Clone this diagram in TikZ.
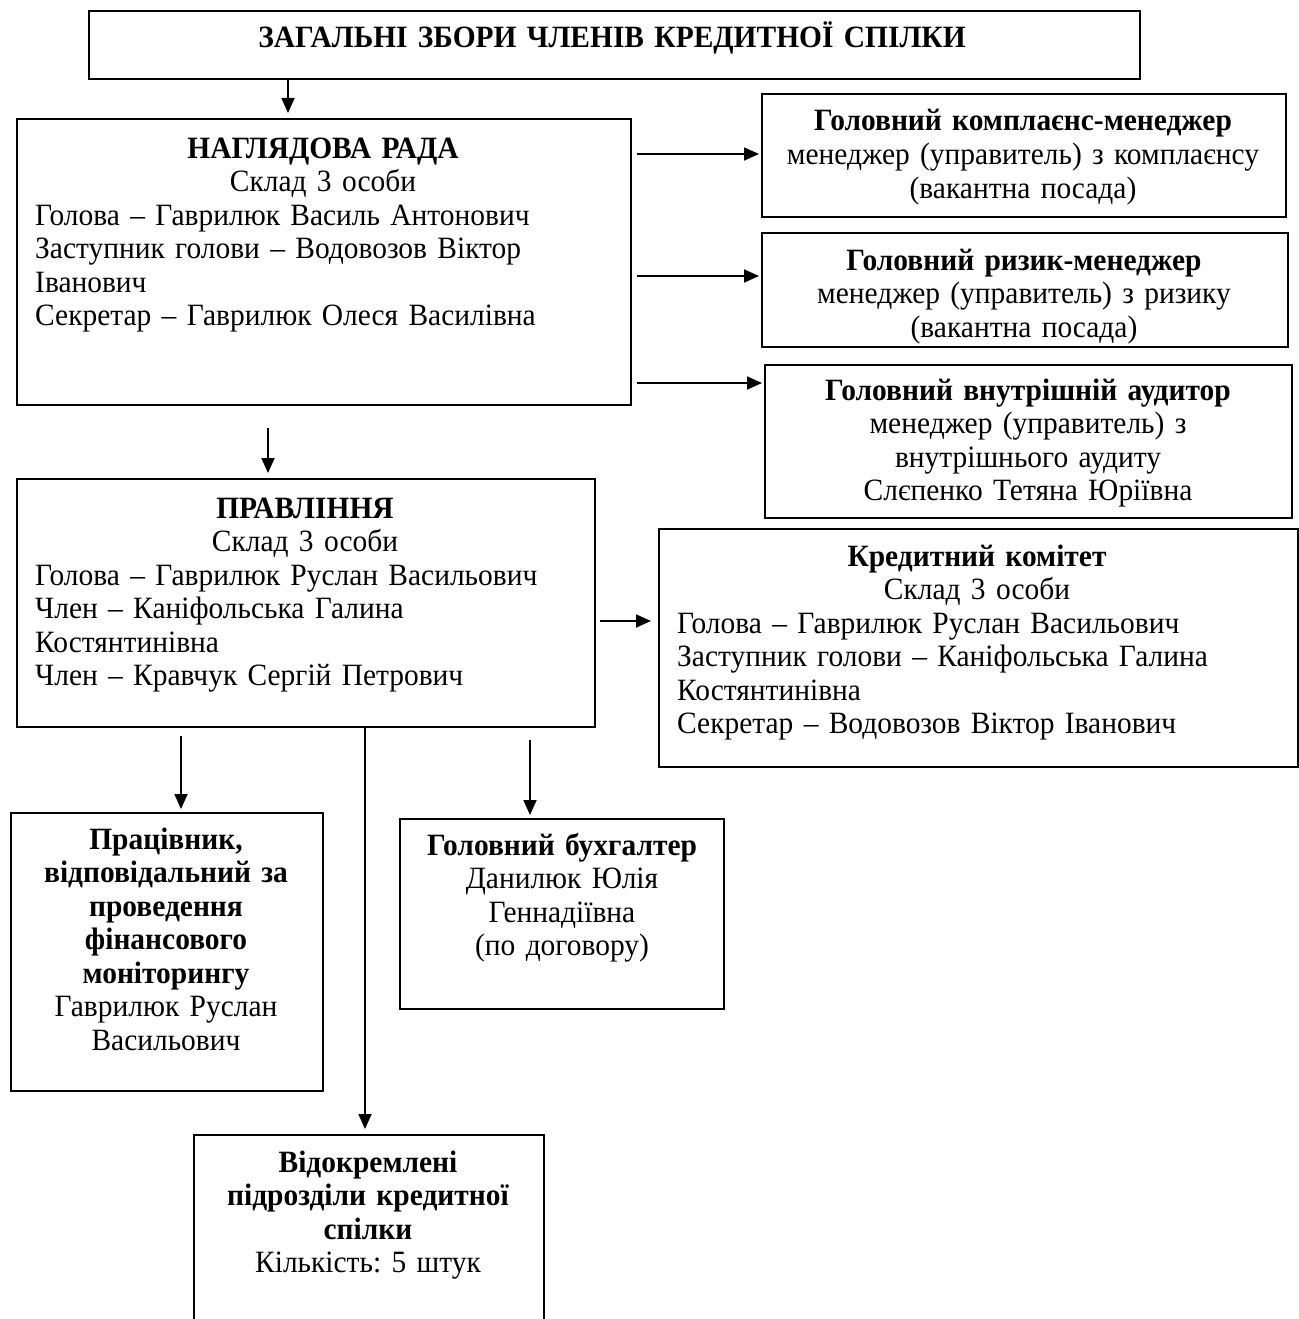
\documentclass[tikz,border=0pt]{standalone}
\usepackage{fontspec}
\setmainfont{Liberation Serif}[FakeStretch=0.95]
\usetikzlibrary{arrows.meta}
\def\fnt{\fontsize{31}{33.5}\selectfont\frenchspacing}

\begin{document}
\begin{tikzpicture}[x=1pt, y=-1pt,
	box/.style={draw, line width=1.6pt, inner sep=0pt, anchor=north west},
	ctr/.style={font=\fnt, inner sep=0pt, align=center, anchor=base},
	lft/.style={font=\fnt, inner sep=0pt, align=left, anchor=base west},
	arr/.style={-{Triangle[length=15pt,width=13pt]}, line width=1.8pt}]
	\useasboundingbox (0,0) rectangle (1298,1319);
	%\draw[step=50, black!20] (0,0) grid (1298,1319);

	% boxes
	\node[box, minimum width=1051pt, minimum height=68pt] (zbory) at (88,10) {};
	\node[box, minimum width=614pt, minimum height=286pt] (nag) at (16,118) {};
	\node[box, minimum width=524pt, minimum height=123pt] (kompl) at (761,93) {};
	\node[box, minimum width=526pt, minimum height=114pt] (ryzyk) at (761,232) {};
	\node[box, minimum width=527pt, minimum height=153pt] (audyt) at (764,364) {};
	\node[box, minimum width=578pt, minimum height=248pt] (prav) at (16,478) {};
	\node[box, minimum width=639pt, minimum height=238pt] (komitet) at (658,528) {};
	\node[box, minimum width=312pt, minimum height=278pt] (prac) at (10,812) {};
	\node[box, minimum width=324pt, minimum height=190pt] (buh) at (399,818) {};
	\node[box, minimum width=350pt, minimum height=260pt] (vidokr) at (193,1134) {};

	% texts
	\node[ctr, text width=1000pt] (zboryT) at (612,48) {\textbf{ЗАГАЛЬНІ ЗБОРИ ЧЛЕНІВ КРЕДИТНОЇ СПІЛКИ}};
	\node[ctr, text width=600pt] (nagT) at (323,158) {\textbf{НАГЛЯДОВА РАДА}\\Склад 3 особи};
	\node[lft, text width=590pt] (nagL) at (35,225) {Голова – Гаврилюк Василь Антонович\\Заступник голови – Водовозов Віктор\\Іванович\\Секретар – Гаврилюк Олеся Василівна};
	\node[ctr, text width=520pt] (komplT) at (1023,131) {\textbf{Головний комплаєнс-менеджер}\\менеджер (управитель) з комплаєнсу\\(вакантна посада)};
	\node[ctr, text width=520pt] (ryzykT) at (1024,270) {\textbf{Головний ризик-менеджер}\\менеджер (управитель) з ризику\\(вакантна посада)};
	\node[ctr, text width=520pt] (audytT) at (1028,400) {\textbf{Головний внутрішній аудитор}\\менеджер (управитель) з\\внутрішнього аудиту\\Слєпенко Тетяна Юріївна};
	\node[ctr, text width=560pt] (pravT) at (305,518) {\textbf{ПРАВЛІННЯ}\\Склад 3 особи};
	\node[lft, text width=550pt] (pravL) at (35,585) {Голова – Гаврилюк Руслан Васильович\\Член – Каніфольська Галина\\Костянтинівна\\Член – Кравчук Сергій Петрович};
	\node[ctr, text width=620pt] (komitetT) at (977,566) {\textbf{Кредитний комітет}\\Склад 3 особи};
	\node[lft, text width=610pt] (komitetL) at (677,633) {Голова – Гаврилюк Руслан Васильович\\Заступник голови – Каніфольська Галина\\Костянтинівна\\Секретар – Водовозов Віктор Іванович};
	\node[ctr, text width=300pt] (pracT) at (166,849) {\textbf{Працівник,}\\\textbf{відповідальний за}\\\textbf{проведення}\\\textbf{фінансового}\\\textbf{моніторингу}\\Гаврилюк Руслан\\Васильович};
	\node[ctr, text width=310pt] (buhT) at (562,855) {\textbf{Головний бухгалтер}\\Данилюк Юлія\\Геннадіївна\\(по договору)};
	\node[ctr, text width=340pt] (vidokrT) at (368,1172) {\textbf{Відокремлені}\\\textbf{підрозділи кредитної}\\\textbf{спілки}\\Кількість: 5 штук};

	% arrows
	\coordinate (a0) at (288,78);
	\coordinate (a1) at (630,154);
	\coordinate (a2) at (630,276);
	\coordinate (a3) at (630,383);
	\coordinate (a4) at (268,404);
	\coordinate (a5) at (594,621);
	\coordinate (a6) at (181,726);
	\coordinate (a7) at (365,726);
	\coordinate (a8) at (530,726);
	\draw[arr, shorten >=5pt] (a0) -- (a0 |- nag.north);
	\draw[arr, shorten <=7pt, shorten >=2pt] (a1) -- (a1 -| kompl.west);
	\draw[arr, shorten <=7pt, shorten >=2pt] (a2) -- (a2 -| ryzyk.west);
	\draw[arr, shorten <=7pt, shorten >=2pt] (a3) -- (a3 -| audyt.west);
	\draw[arr, shorten <=24pt, shorten >=5pt] (a4) -- (a4 |- prav.north);
	\draw[arr, shorten <=6pt, shorten >=7pt] (a5) -- (a5 -| komitet.west);
	\draw[arr, shorten <=10pt, shorten >=3pt] (a6) -- (a6 |- prac.north);
	\draw[arr, shorten >=5pt] (a7) -- (a7 |- vidokr.north);
	\draw[arr, shorten <=14pt, shorten >=3pt] (a8) -- (a8 |- buh.north);
\end{tikzpicture}
\end{document}
